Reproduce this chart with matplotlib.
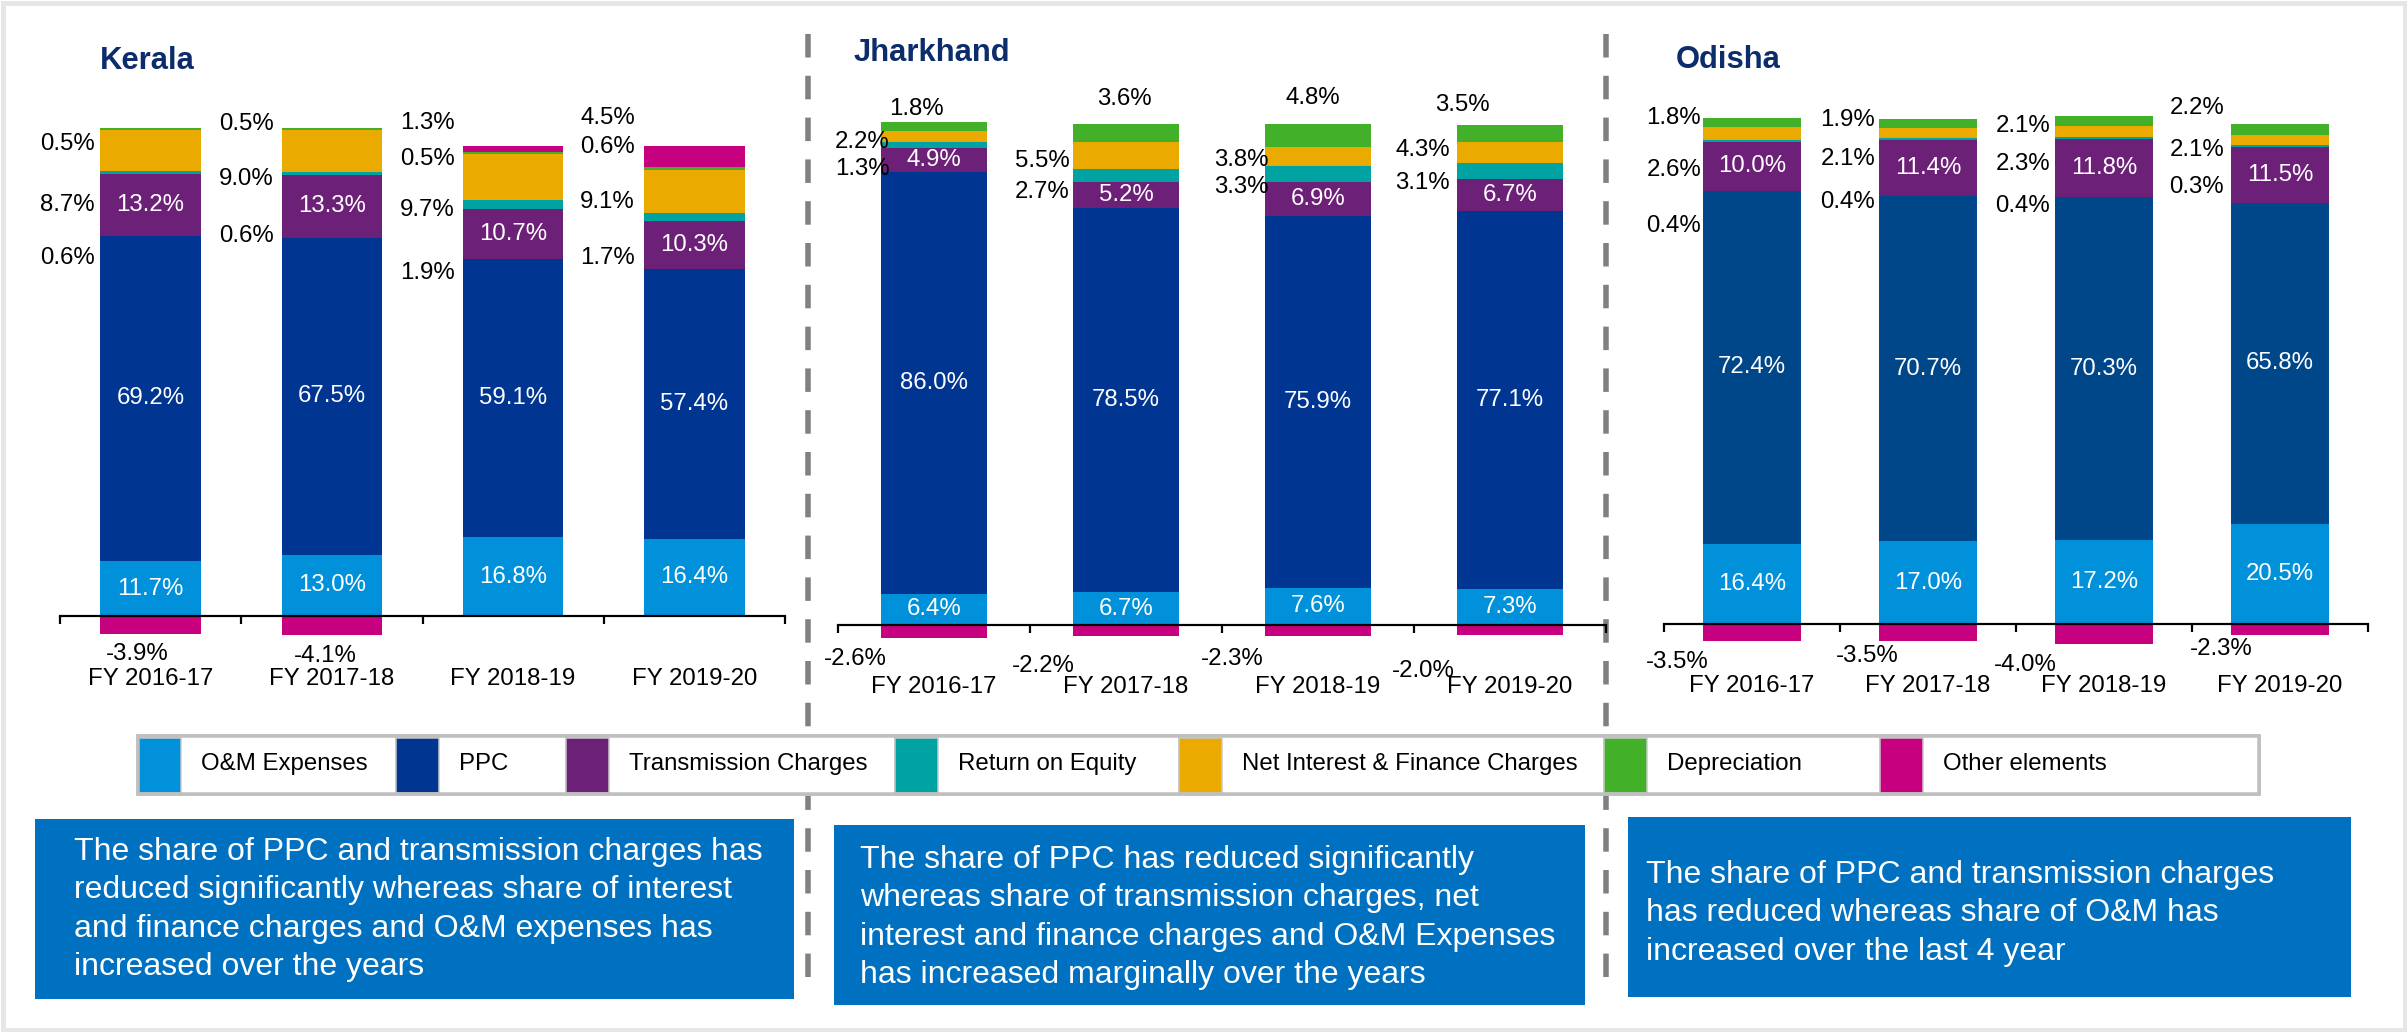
import matplotlib
matplotlib.use('Agg')
import matplotlib.pyplot as plt
from matplotlib.patches import Rectangle
import numpy as np

plt.rcParams['font.family'] = ['Liberation Sans', 'DejaVu Sans']
plt.rcParams['lines.scale_dashes'] = False

# ---------------- data ----------------
years = ['FY 2016-17', 'FY 2017-18', 'FY 2018-19', 'FY 2019-20']
series = ['O&M Expenses', 'PPC', 'Transmission Charges', 'Return on Equity',
          'Net Interest & Finance Charges', 'Depreciation', 'Other elements']
states = ['Kerala', 'Jharkhand', 'Odisha']

kerala_om = [11.7, 13.0, 16.8, 16.4]
kerala_ppc = [69.2, 67.5, 59.1, 57.4]
kerala_trans = [13.2, 13.3, 10.7, 10.3]
kerala_roe = [0.6, 0.6, 1.9, 1.7]
kerala_interest = [8.7, 9.0, 9.7, 9.1]
kerala_dep = [0.5, 0.5, 0.5, 0.6]
kerala_other = [-3.9, -4.1, 1.3, 4.5]

jharkhand_om = [6.4, 6.7, 7.6, 7.3]
jharkhand_ppc = [86.0, 78.5, 75.9, 77.1]
jharkhand_trans = [4.9, 5.2, 6.9, 6.7]
jharkhand_roe = [1.3, 2.7, 3.3, 3.1]
jharkhand_interest = [2.2, 5.5, 3.8, 4.3]
jharkhand_dep = [1.8, 3.6, 4.8, 3.5]
jharkhand_other = [-2.6, -2.2, -2.3, -2.0]

odisha_om = [16.4, 17.0, 17.2, 20.5]
odisha_ppc = [72.4, 70.7, 70.3, 65.8]
odisha_trans = [10.0, 11.4, 11.8, 11.5]
odisha_roe = [0.4, 0.4, 0.4, 0.3]
odisha_interest = [2.6, 2.1, 2.3, 2.1]
odisha_dep = [1.8, 1.9, 2.1, 2.2]
odisha_other = [-3.5, -3.5, -4.0, -2.3]

notes = [
    ['The share of PPC and transmission charges has',
     'reduced significantly whereas share of interest',
     'and finance charges and O&M expenses has',
     'increased over the years'],
    ['The share of PPC has reduced significantly',
     'whereas share of transmission charges, net',
     'interest and finance charges and O&M Expenses',
     'has increased marginally over the years'],
    ['The share of PPC and transmission charges',
     'has reduced whereas share of O&M has',
     'increased over the last 4 year'],
]

# ---------------- style / layout ----------------
W, H, DPI = 2407, 1032, 100
PX = 72.0 / DPI
SERIES_COLORS = ['#0091DA', '#003591', '#6D2077', '#00A3A1', '#EAAA00', '#43B02A', '#C6007E']
TITLE_COLOR = '#0C2C6C'
BOX_COLOR = '#0070C0'
BAR_W = 0.555
FS = 17.3

layouts = {
    'Kerala': dict(x0=60, x1=785, zero=616, scale=4.70, ppc='#003591', title=(100, 61),
                   dep_above=False,
                   side_y=[[100.4, 87.4, 76.2], [104.7, 93.0, 80.9],
                           [104.9, 97.2, 86.4, 73.0], [106.0, 99.8, 88.1, 76.2]],
                   side_gap=[5.5, 8, 8, 9],
                   neg_dx=[-13, -7, 0, 0], neg_dy=[20, 21, 0, 0], tick_pad=52),
    'Jharkhand': dict(x0=838, x1=1606, zero=625, scale=4.90, ppc='#003591', title=(854, 53),
                      dep_above=True, above_y=[105.3, 107.3, 107.5, 106.1],
                      above_dx=[-18, -2, -5, -48],
                      side_y=[[98.6, 93.1], [94.7, 88.4], [94.9, 89.4], [97.0, 90.2]],
                      side_gap=[-9, 3, -3.5, 7],
                      neg_dx=[-79, -83, -86, -87], neg_dy=[21, 30, 23, 36], tick_pad=51),
    'Odisha': dict(x0=1664, x1=2368, zero=624, scale=4.88, ppc='#00478A', title=(1676, 60),
                   dep_above=False,
                   side_y=[[103.7, 93.0, 81.5], [103.3, 95.3, 86.5],
                           [102.0, 94.3, 85.6], [105.7, 97.1, 89.5]],
                   side_gap=[2, 4, 5, 7],
                   neg_dx=[-75, -61, -79, -59], neg_dy=[21, 15, 21, 14], tick_pad=51),
}
panel_values = {
    'Kerala': [kerala_om, kerala_ppc, kerala_trans, kerala_roe, kerala_interest, kerala_dep, kerala_other],
    'Jharkhand': [jharkhand_om, jharkhand_ppc, jharkhand_trans, jharkhand_roe, jharkhand_interest,
                  jharkhand_dep, jharkhand_other],
    'Odisha': [odisha_om, odisha_ppc, odisha_trans, odisha_roe, odisha_interest, odisha_dep, odisha_other],
}

fig = plt.figure(figsize=(W / DPI, H / DPI), dpi=DPI)
fig.patch.set_facecolor('white')

bg = fig.add_axes([0, 0, 1, 1], zorder=0)
bg.set_xlim(0, W)
bg.set_ylim(H, 0)
bg.axis('off')


def fmt(v):
    return f'{v:.1f}%'


def draw_panel(name):
    lay = layouts[name]
    values = panel_values[name]
    ylo, yhi = -16, 112
    bottom_px = lay['zero'] + (-ylo) * lay['scale']
    top_px = lay['zero'] - yhi * lay['scale']
    ax = fig.add_axes([lay['x0'] / W, (H - bottom_px) / H, (lay['x1'] - lay['x0']) / W,
                       (bottom_px - top_px) / H], zorder=2)
    ax.set_facecolor('none')
    ax.set_xlim(-0.5, len(years) - 0.5)
    ax.set_ylim(ylo, yhi)
    x = np.arange(len(years))
    colors = list(SERIES_COLORS)
    colors[1] = lay['ppc']
    base = np.zeros(len(years))
    segs = []
    for k, vals in enumerate(values):
        v = np.array(vals, dtype=float)
        pos = v > 0
        neg = v < 0
        b = base.copy()
        if pos.any():
            ax.bar(x[pos], v[pos], BAR_W, bottom=base[pos], color=colors[k], linewidth=0)
        if neg.any():
            ax.bar(x[neg], v[neg], BAR_W, bottom=0, color=colors[k], linewidth=0)
        segs.append((np.where(pos, b, 0), np.where(pos, b + v, v)))
        base = base + np.where(pos, v, 0)

    # inside labels (O&M, PPC, Transmission)
    for k in range(3):
        for i in range(len(years)):
            lo, hi = segs[k][0][i], segs[k][1][i]
            ax.text(x[i], (lo + hi) / 2, fmt(values[k][i]), color='white', fontsize=FS,
                    ha='center', va='center')

    other = values[6]
    for i in range(len(years)):
        order = []
        if other[i] > 0:
            order.append(6)
        if not lay['dep_above']:
            order.append(5)
        order += [4, 3]
        for j, k in enumerate(order):
            ax.annotate(fmt(values[k][i]), xy=(x[i] - BAR_W / 2, lay['side_y'][i][j]),
                        xytext=(-lay['side_gap'][i], 0), textcoords='offset pixels',
                        ha='right', va='center', fontsize=FS, color='black')
        if lay['dep_above']:
            ax.annotate(fmt(values[5][i]), xy=(x[i], lay['above_y'][i]),
                        xytext=(lay['above_dx'][i], 0), textcoords='offset pixels',
                        ha='center', va='center', fontsize=FS, color='black')
        if other[i] < 0:
            ax.annotate(fmt(other[i]), xy=(x[i], other[i]),
                        xytext=(lay['neg_dx'][i], -lay['neg_dy'][i]), textcoords='offset pixels',
                        ha='center', va='center', fontsize=FS, color='black')

    for s in ['top', 'right', 'left']:
        ax.spines[s].set_visible(False)
    ax.spines['bottom'].set_position(('data', 0))
    ax.spines['bottom'].set_linewidth(2.2 * PX)
    ax.spines['bottom'].set_color('black')
    ax.set_yticks([])
    ax.set_xticks(x)
    ax.set_xticklabels(years, fontsize=FS)
    ax.set_xticks(np.arange(-0.5, len(years)), minor=True)
    ax.tick_params(axis='x', which='major', length=0, pad=lay['tick_pad'] * PX)
    ax.tick_params(axis='x', which='minor', length=8 * PX, width=2.2 * PX, direction='out',
                   color='black')

    tx, ty = lay['title']
    bg.text(tx, ty, name, fontsize=22.3, fontweight='bold', color=TITLE_COLOR,
            ha='left', va='center')


for st in states:
    draw_panel(st)

# dashed separators
for xs in [808, 1606]:
    bg.plot([xs, xs], [33.6, 977], color='#808080', lw=5.5 * PX,
            linestyle=(0, (23.5 * PX, 18.3 * PX)), solid_capstyle='butt', zorder=1)

# legend
LEG_X = [138, 396, 566, 895, 1179, 1604, 1880]
LEG_RIGHT = 2259
LEG_TOP, LEG_BOT = 736, 794
bg.add_patch(Rectangle((LEG_X[0], LEG_TOP), LEG_RIGHT - LEG_X[0], LEG_BOT - LEG_TOP,
                       facecolor='white', edgecolor='#BFBFBF', lw=3.5 * PX, zorder=5))
edges = LEG_X + [LEG_RIGHT]
for k, name in enumerate(series):
    px0 = LEG_X[k]
    bg.add_patch(Rectangle((px0, LEG_TOP), edges[k + 1] - px0, LEG_BOT - LEG_TOP,
                           facecolor='white', edgecolor='#C8C8C8', lw=2 * PX, zorder=6))
    bg.add_patch(Rectangle((px0, LEG_TOP + 1.5), 43, LEG_BOT - LEG_TOP - 3,
                           facecolor=SERIES_COLORS[k], edgecolor='#C8C8C8', lw=1.5 * PX, zorder=7))
    bg.text(px0 + 63, (LEG_TOP + LEG_BOT) / 2 - 1, name, fontsize=FS, color='black',
            ha='left', va='center', zorder=8)
bg.add_patch(Rectangle((LEG_X[0], LEG_TOP), LEG_RIGHT - LEG_X[0], LEG_BOT - LEG_TOP,
                       facecolor='none', edgecolor='#BFBFBF', lw=3.5 * PX, zorder=9))

# note boxes
BOXES = [(35, 819, 794, 999), (834, 825, 1585, 1005), (1628, 817, 2351, 997)]
TEXT_POS = [(74, 852), (860, 860), (1646, 875)]
LINE_PITCH = 38.4
for (bx0, by0, bx1, by1), (tx, ty), lines in zip(BOXES, TEXT_POS, notes):
    bg.add_patch(Rectangle((bx0, by0), bx1 - bx0, by1 - by0, facecolor=BOX_COLOR,
                           edgecolor='none', zorder=5))
    for j, line in enumerate(lines):
        bg.text(tx, ty + j * LINE_PITCH, line, fontsize=23, color='white',
                ha='left', va='center', zorder=6)

# outer frame
bg.add_patch(Rectangle((2.5, 2.5), W - 5, H - 5, facecolor='none', edgecolor='#E6E6E6',
                       lw=5 * PX, zorder=10))

fig.savefig('out.png', dpi=DPI, facecolor='white')
